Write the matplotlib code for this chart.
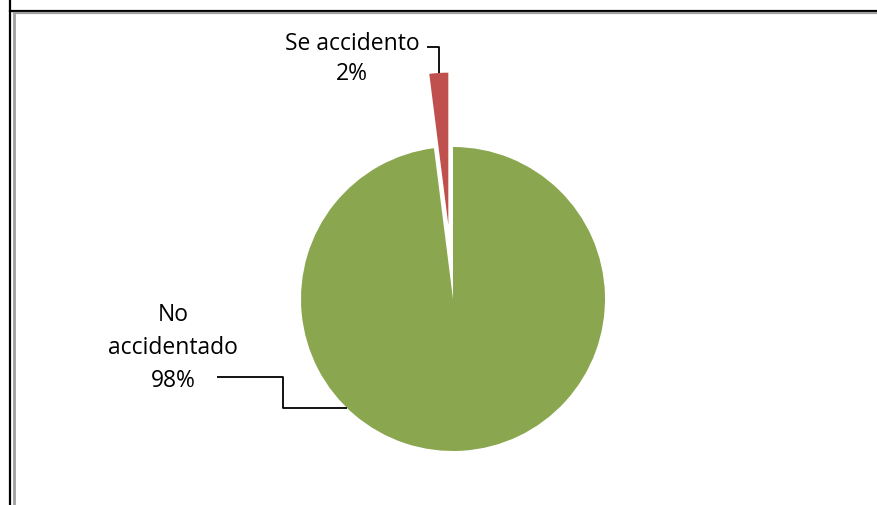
import numpy as np
import matplotlib.pyplot as plt
from matplotlib.lines import Line2D

# pie data
labels = ['No\naccidentado', 'Se accidento']
values = [98, 2]
colors = ['#8AA64F', '#C0504D']
explode = [0, 0.49]

W, H = 878, 506
CX, CY, R = 453, 300, 152   # pie centre and radius in pixels


def px(x, y):
    """pixel position (top-left origin) -> data coords"""
    return (x - CX) / R, (CY - y) / R


fig = plt.figure(figsize=(W / 100, H / 100), dpi=100)
ax = fig.add_axes([0, 0, 1, 1])

wedges, _ = ax.pie(values, colors=colors, explode=explode, startangle=90,
                   counterclock=False, radius=1, center=(0, 0),
                   wedgeprops=dict(linewidth=0))
ax.set_aspect('auto')
ax.set_xlim(-CX / R, (W - CX) / R)
ax.set_ylim(-(H - CY) / R, CY / R)
ax.axis('off')

font = dict(family=['Open Sans', 'DejaVu Sans'], fontsize=16.5, color='black')
pcts = ['{:d}%'.format(v) for v in values]

# green slice label + elbow leader
ax.text(*px(173, 348), labels[0] + '\n' + pcts[0], ha='center', va='center',
        linespacing=1.5, **font)
ang = np.deg2rad(225.8)
ex, ey = np.cos(ang), np.sin(ang)
x0, y0 = px(217, 378)
xm, _ = px(283, 0)
ax.plot([x0, xm, xm, ex], [y0, y0, ey, ey], color='black', lw=1.3,
        solid_capstyle='butt')

# red slice label + elbow leader to the exploded wedge tip
w = wedges[1]
mid = np.deg2rad((w.theta1 + w.theta2) / 2)
cx, cy = w.center
tx, ty = cx + np.cos(mid) * w.r, cy + np.sin(mid) * w.r
ax.text(*px(352, 59), labels[1] + '\n' + pcts[1], ha='center', va='center',
        linespacing=1.3, **font)
x1, y1 = px(427, 48)
ax.plot([x1, tx, tx], [y1, y1, ty], color='black', lw=1.3,
        solid_capstyle='butt')

# frame edges
fig.add_artist(Line2D([10, 10], [H, 0], color='black', lw=1.6,
                      transform=None))
fig.add_artist(Line2D([10, W], [H - 12, H - 12], color='black', lw=1.6,
                      transform=None))
fig.add_artist(Line2D([14, 14], [H - 14, 0], color='#A0A0A0', lw=2,
                      transform=None))
fig.add_artist(Line2D([14, W], [H - 13.5, H - 13.5], color='#A0A0A0', lw=1.6,
                      transform=None))

fig.savefig('out.png', dpi=100)
